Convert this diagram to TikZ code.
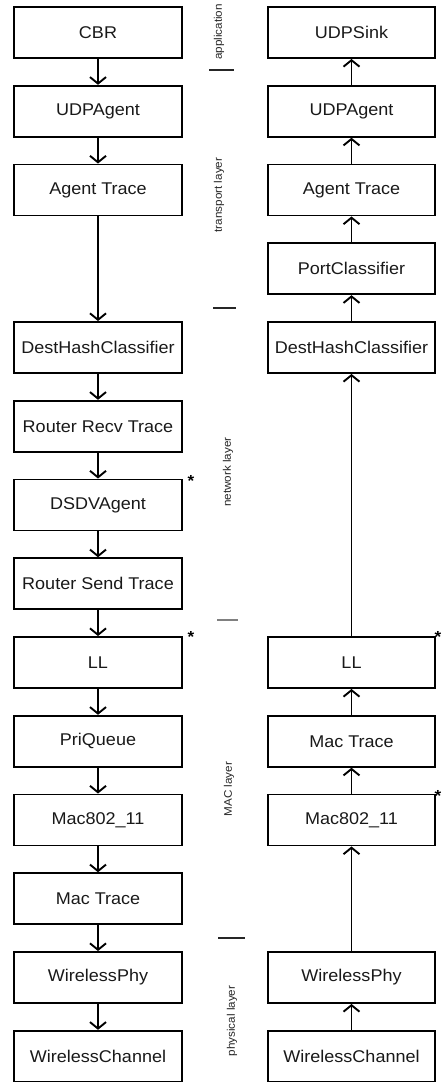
\documentclass[tikz,border=0pt]{standalone}
\usepackage{fontspec}
\setmainfont{Liberation Sans}[FakeStretch=1.06]
\usetikzlibrary{arrows.meta}
\begin{document}
\begin{tikzpicture}[x=1pt,y=-1pt,
  blk/.style={draw=black, line width=1.9pt, minimum width=168pt, minimum height=51pt, inner sep=0pt, font=\fontsize{17}{20}\selectfont, text=black!90},
  blkr/.style={blk, minimum width=167pt},
  arr/.style={line width=1.9pt, -{Straight Barb[length=6.5pt,width=16pt]}},
  lay/.style={rotate=90, font=\fontsize{11}{13}\selectfont, inner sep=0pt, text=black!85},
  sep/.style={line width=1.3pt, black!85},
  star/.style={font=\fontsize{16}{18}\selectfont\bfseries, inner sep=0pt, anchor=north}]
\useasboundingbox (0,0) rectangle (443,1082);
% left column
\node[blk] (l0) at (98,32.5) {CBR};
\node[blk] (l1) at (98,111.25) {UDPAgent};
\node[blk] (l2) at (98,190) {Agent Trace};
\node[blk] (l4) at (98,347.5) {DestHashClassifier};
\node[blk] (l5) at (98,426.25) {Router Recv Trace};
\node[blk] (l6) at (98,505) {DSDVAgent};
\node[blk] (l7) at (98,583.75) {Router Send Trace};
\node[blk] (l8) at (98,662.5) {LL};
\node[blk] (l9) at (98,741.25) {PriQueue};
\node[blk] (l10) at (98,820) {Mac802\_11};
\node[blk] (l11) at (98,898.75) {Mac Trace};
\node[blk] (l12) at (98,977.5) {WirelessPhy};
\node[blk] (l13) at (98,1056.25) {WirelessChannel};
% right column
\node[blkr] (r0) at (351.5,32.5) {UDPSink};
\node[blkr] (r1) at (351.5,111.25) {UDPAgent};
\node[blkr] (r2) at (351.5,190) {Agent Trace};
\node[blkr] (r3) at (351.5,268.75) {PortClassifier};
\node[blkr] (r4) at (351.5,347.5) {DestHashClassifier};
\node[blkr] (r8) at (351.5,662.5) {LL};
\node[blkr] (r9) at (351.5,741.25) {Mac Trace};
\node[blkr] (r10) at (351.5,820) {Mac802\_11};
\node[blkr] (r12) at (351.5,977.5) {WirelessPhy};
\node[blkr] (r13) at (351.5,1056.25) {WirelessChannel};
% left arrows (down)
\foreach \a/\b in {l0/l1,l1/l2,l2/l4,l4/l5,l5/l6,l6/l7,l7/l8,l8/l9,l9/l10,l10/l11,l11/l12,l12/l13}
  \draw[arr] (\a.south) -- (\b.north);
% right arrows (up)
\foreach \a/\b in {r1/r0,r2/r1,r3/r2,r4/r3,r8/r4,r9/r8,r10/r9,r12/r10,r13/r12}
  \draw[arr] (\a.north) -- (\b.south);
% layer labels
\node[lay] (la) at (219,32) {application};
\node[lay] (lt) at (219,195) {transport layer};
\node[lay] (ln) at (228,472) {network layer};
\node[lay] (lm) at (229,789) {MAC layer};
\node[lay] (lp) at (232,1021) {physical layer};
% separators
\draw[sep] (209,70) -- (234,70);
\draw[sep] (213,308) -- (236,308);
\draw[sep, black!50] (217,620) -- (238,620);
\draw[sep] (218,938) -- (245,938);
% asterisks
\node[star] (s1) at (191,475) {*};
\node[star] (s2) at (191,631) {*};
\node[star] (s3) at (438,631) {*};
\node[star] (s4) at (438,790) {*};
\end{tikzpicture}
\end{document}
